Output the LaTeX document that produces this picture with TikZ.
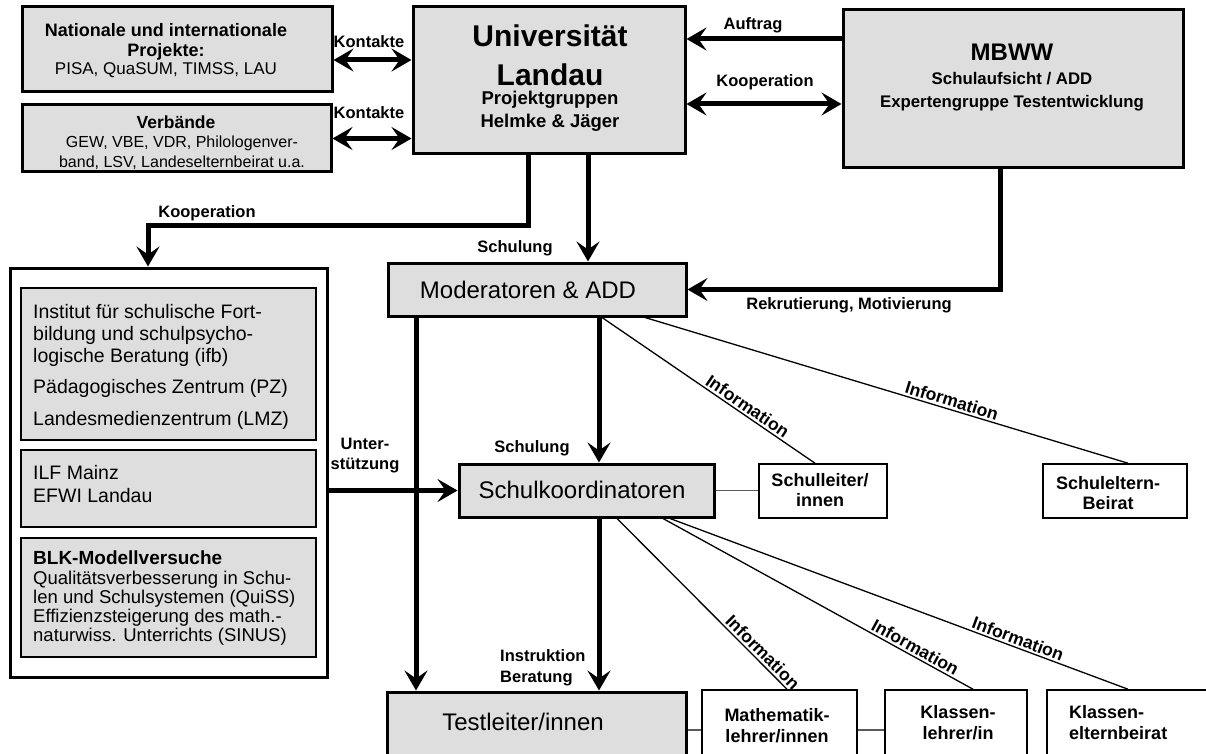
\documentclass[tikz,border=0pt]{standalone}
\usepackage{fontspec}
\setmainfont{Liberation Sans}
\usetikzlibrary{arrows.meta,calc}
\definecolor{boxgray}{RGB}{222,222,222}
\definecolor{linegray}{RGB}{90,90,90}
\begin{document}
\begin{tikzpicture}[x=1pt,y=-1pt,
  gbox/.style={draw, line width=3pt, fill=boxgray, inner sep=0pt, rectangle},
  obox/.style={draw, line width=3pt, fill=white, inner sep=0pt, rectangle},
  ibox/.style={draw, line width=1.5pt, fill=boxgray, inner sep=0pt, rectangle},
  wbox/.style={draw, line width=1.6pt, fill=white, inner sep=0pt, rectangle},
  arr/.style={line width=5pt, -{Stealth[length=20pt,width=23pt,inset=8pt]}},
  dblarr/.style={line width=5pt, {Stealth[length=20pt,width=23pt,inset=8pt]}-{Stealth[length=20pt,width=23pt,inset=8pt]}},
  infoline/.style={line width=1.3pt},
  conn/.style={line width=1.5pt, draw=linegray},
  lbl/.style={font=\bfseries\fontsize{16.5}{19}\selectfont, inner sep=0pt, align=center},
  infolbl/.style={font=\bfseries\fontsize{17.5}{20}\selectfont, sloped, above, inner sep=2pt},
  txt/.style={inner sep=0pt},
  ]
\useasboundingbox (0,0) rectangle (1206,754);
\clip (0,0) rectangle (1206,754);

% boxes
\node[gbox, minimum width=310pt, minimum height=85pt] (nat) at (177,49.5) {};
\node[gbox, minimum width=309pt, minimum height=67pt] (verb) at (176.5,138.5) {};
\node[gbox, minimum width=272pt, minimum height=147pt] (uni) at (549,80.5) {};
\node[gbox, minimum width=340pt, minimum height=158pt] (mbww) at (1013,89) {};
\node[obox, minimum width=317pt, minimum height=409pt] (outer) at (168.5,472.5) {};
\node[ibox, minimum width=295pt, minimum height=152pt] (inst) at (168.5,364) {};
\node[ibox, minimum width=295pt, minimum height=77pt] (ilf) at (168.5,488.5) {};
\node[ibox, minimum width=295pt, minimum height=119pt] (blk) at (168.5,597.5) {};
\node[gbox, minimum width=298pt, minimum height=53pt] (mod) at (537,289.5) {};
\node[gbox, minimum width=255pt, minimum height=53pt] (skoord) at (586.5,490.5) {};
\node[gbox, minimum width=299pt, minimum height=108pt] (test) at (536.5,746) {};
\node[wbox, minimum width=128pt, minimum height=54pt] (sl) at (823,491) {};
\node[wbox, minimum width=144pt, minimum height=54pt] (seb) at (1115,491) {};
\node[wbox, minimum width=155pt, minimum height=110pt] (math) at (779.5,745) {};
\node[wbox, minimum width=142pt, minimum height=110pt] (kl) at (956,745) {};
\node[wbox, minimum width=173pt, minimum height=110pt] (keb) at (1133.5,745) {};

% box texts
\node[txt, font=\bfseries\fontsize{18}{20}\selectfont, align=center] (natT) at (166,42) {Nationale und internationale\\Projekte:};
\node[txt, font=\fontsize{17}{19}\selectfont] (natP) at (166,70) {PISA, QuaSUM, TIMSS, LAU};
\node[txt, font=\bfseries\fontsize{17.5}{20}\selectfont] (verbT) at (176,122) {Verbände};
\node[txt, font=\fontsize{16}{20}\selectfont, align=center] (verbP) at (182,153) {GEW, VBE, VDR, Philologenver-\\band, LSV, Landeselternbeirat u.a.};
\node[txt, font=\bfseries\fontsize{30}{39}\selectfont, align=center] (uniT) at (550,55) {Universität\\Landau};
\node[txt, font=\bfseries\fontsize{18.5}{23}\selectfont, align=center] (uniP) at (550,111.5) {Projektgruppen\\Helmke \& Jäger};
\node[txt, font=\bfseries\fontsize{24}{28}\selectfont] (mbwwT) at (1012,52) {MBWW};
\node[txt, font=\bfseries\fontsize{16.8}{23}\selectfont, align=center] (mbwwP) at (1012,91.5) {Schulaufsicht / ADD\\Expertengruppe Testentwicklung};
\node[txt, font=\fontsize{19.5}{22}\selectfont, align=left, anchor=west] (instT) at (33,335) {Institut für schulische Fort-\\bildung und schulpsycho-\\logische Beratung (ifb)};
\node[txt, font=\fontsize{19.5}{22}\selectfont, anchor=west] (instP) at (33,388) {Pädagogisches Zentrum (PZ)};
\node[txt, font=\fontsize{19.5}{22}\selectfont, anchor=west] (instL) at (33,420) {Landesmedienzentrum (LMZ)};
\node[txt, font=\fontsize{19.5}{23}\selectfont, align=left, anchor=west] (ilfT) at (33,484.5) {ILF Mainz\\EFWI Landau};
\node[txt, font=\bfseries\fontsize{19}{21}\selectfont, anchor=west] (blkT) at (33,558) {BLK-Modellversuche};
\node[txt, font=\fontsize{18.5}{19}\selectfont, align=left, anchor=west] (blkP) at (33,608.5) {Qualitätsverbesserung in Schu-\\len und Schulsystemen (QuiSS)\\Effizienzsteigerung des math.-\\naturwiss. Unterrichts (SINUS)};
\node[txt, font=\fontsize{24}{28}\selectfont] (modT) at (528,290) {Moderatoren \& ADD};
\node[txt, font=\fontsize{24}{28}\selectfont] (skoordT) at (582,490) {Schulkoordinatoren};
\node[txt, font=\fontsize{24}{28}\selectfont] (testT) at (523,722) {Testleiter/innen};
\node[txt, font=\bfseries\fontsize{18}{20}\selectfont, align=center] (slT) at (820,490) {Schulleiter/\\innen};
\node[txt, font=\bfseries\fontsize{18}{20}\selectfont, align=center] (sebT) at (1108,493) {Schuleltern-\\Beirat};
\node[txt, font=\bfseries\fontsize{18}{21}\selectfont, align=center] (mathT) at (777,726) {Mathematik-\\lehrer/innen};
\node[txt, font=\bfseries\fontsize{18}{21}\selectfont, align=center] (klT) at (958,722.5) {Klassen-\\lehrer/in};
\node[txt, font=\bfseries\fontsize{18}{21}\selectfont, align=left, anchor=west] (kebT) at (1069,722.5) {Klassen-\\elternbeirat};

% connector labels
\node[lbl] (lk1) at (369,42) {Kontakte};
\node[lbl] (lk2) at (369,113) {Kontakte};
\node[lbl] (lauf) at (753,25) {Auftrag};
\node[lbl] (lkoop1) at (765,82) {Kooperation};
\node[lbl] (lkoop2) at (207,213) {Kooperation};
\node[lbl] (lsch1) at (515,248) {Schulung};
\node[lbl] (lrek) at (849,305) {Rekrutierung, Motivierung};
\node[lbl] (lsch2) at (532,448) {Schulung};
\node[lbl, font=\bfseries\fontsize{16.5}{20}\selectfont] (lunt) at (365,456) {Unter-\\stützung};
\node[lbl, align=left, anchor=west, font=\bfseries\fontsize{16.5}{21}\selectfont] (linst) at (500,667.5) {Instruktion\\Beratung};

% thick connectors
\coordinate (k1s) at ([yshift=-10.5pt]nat.east);
\draw[dblarr] (k1s) -- (k1s -| uni.west);
\draw[dblarr] (verb.east) -- (verb.east -| uni.west);
\coordinate (auf) at ([yshift=50pt]mbww.west);
\draw[arr] (auf) -- (auf -| uni.east);
\coordinate (koop) at ([yshift=-15pt]mbww.west);
\draw[dblarr] (koop) -- (koop -| uni.east);
\coordinate (kc) at ([xshift=-20.5pt]outer.north);
\coordinate (ks) at ([xshift=-21pt]uni.south);
\coordinate (kh) at (148,225);
\draw[arr] (ks) |- (kh) -- (kc);
\coordinate (s1) at ([xshift=39pt]uni.south);
\draw[arr] (s1) -- (s1 |- mod.north);
\coordinate (mb) at ([xshift=-13pt]mbww.south);
\draw[arr] (mb) |- (mod.east);
\coordinate (m1) at ([xshift=-121pt]mod.south);
\draw[arr] (m1) -- (m1 |- test.north);
\coordinate (m2) at ([xshift=62pt]mod.south);
\draw[arr] (m2) -- (m2 |- skoord.north);
\coordinate (s2) at ([xshift=12.5pt]skoord.south);
\draw[arr] (s2) -- (s2 |- test.north);
\draw[arr] (outer.east |- skoord.west) -- (skoord.west);

% information lines
\draw[infoline] ([xshift=65pt]mod.south) -- node[infolbl, pos=0.66] {Information} ([xshift=-8pt]sl.north);
\draw[infoline] ([xshift=108pt]mod.south) -- node[infolbl, pos=0.63] {Information} ([xshift=13pt]seb.north);
\draw[infoline] ([xshift=30.5pt]skoord.south) -- node[infolbl, pos=0.82] {Information} ([xshift=7.5pt]math.north);
\draw[infoline] ([xshift=76.5pt]skoord.south) -- node[infolbl, pos=0.8] {Information} ([xshift=17pt]kl.north);
\draw[infoline] ([xshift=83.5pt]skoord.south) -- node[infolbl, pos=0.753] {Information} ([xshift=-5.5pt]keb.north);

% thin gray connectors
\draw[conn] (skoord.east) -- (skoord.east -| sl.west);
\coordinate (t1) at ([yshift=16pt]test.east);
\draw[conn] (t1) -- (t1 -| math.west);
\coordinate (mt1) at ([yshift=15pt]math.east);
\draw[conn] (mt1) -- (mt1 -| kl.west);
\end{tikzpicture}
\end{document}
